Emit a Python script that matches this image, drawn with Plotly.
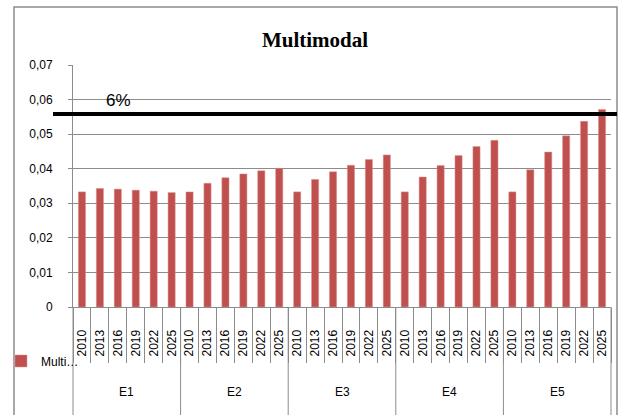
import plotly.graph_objects as go

groups = ["E1", "E2", "E3", "E4", "E5"]
years = ["2010", "2013", "2016", "2019", "2022", "2025"]
values = [
    [0.0333, 0.0343, 0.0341, 0.0338, 0.0335, 0.0331],  # E1
    [0.0333, 0.0358, 0.0374, 0.0385, 0.0394, 0.0401],  # E2
    [0.0333, 0.0369, 0.0391, 0.0410, 0.0427, 0.0440],  # E3
    [0.0333, 0.0376, 0.0409, 0.0438, 0.0464, 0.0482],  # E4
    [0.0333, 0.0397, 0.0448, 0.0495, 0.0537, 0.0571],  # E5
]
threshold = 0.0558
threshold_label = "6%"
series_name = "Multi…"
title = "Multimodal"
y_ticks = [0, 0.01, 0.02, 0.03, 0.04, 0.05, 0.06, 0.07]
y_ticktext = ["0", "0,01", "0,02", "0,03", "0,04", "0,05", "0,06", "0,07"]

cats = [g + " " + y for g in groups for y in years]
cat_labels = [y for _ in groups for y in years]
y_vals = [v for row in values for v in row]

W, H = 619, 415
L, R, T, B = 73, 8, 65, 108
pw, ph = W - L - R, H - T - B
GRAY = "#8c8c8c"
FONT = "Liberation Sans, Arial, sans-serif"

def px_x(p):
    return (p - L) / pw

def px_y(p):
    return (H - B - p) / ph

fig = go.Figure()
fig.add_trace(go.Bar(
    x=cats, y=y_vals, name=series_name,
    marker=dict(color="#C0504D", line=dict(color="#D99795", width=0.5)),
    width=0.4, showlegend=True,
))

fig.update_layout(
    width=W, height=H,
    margin=dict(l=L, r=R, t=T, b=B, autoexpand=False),
    paper_bgcolor="white", plot_bgcolor="white",
    font=dict(family=FONT, size=12, color="black"),
    title=dict(text="<b>" + title + "</b>", x=px_x(315), xref="paper", xanchor="center",
               y=1 - 40 / H, yanchor="middle",
               font=dict(family="Liberation Serif, Times New Roman, serif", size=21, color="black")),
    showlegend=True,
    legend=dict(x=1 / W, y=1 - 361 / H, xref="container", yref="container",
                xanchor="left", yanchor="middle", font=dict(size=12),
                bgcolor="rgba(0,0,0,0)", borderwidth=0),
)

fig.update_xaxes(
    type="category", tickvals=cats, ticktext=cat_labels, showgrid=False,
    showline=True, linecolor=GRAY, linewidth=1,
    ticks="outside", ticklen=55, tickcolor=GRAY, tickwidth=1, tickson="boundaries",
    tickangle=-90, ticklabelstandoff=17, tickfont=dict(size=12),
)
fig.update_yaxes(
    range=[0, 0.07], tickvals=y_ticks, ticktext=y_ticktext, showgrid=True, gridcolor=GRAY,
    gridwidth=1, showline=True, linecolor=GRAY, linewidth=1, ticks="outside", ticklen=4,
    tickcolor=GRAY, zeroline=False, tickfont=dict(size=12), ticklabelstandoff=13,
)

# outer chart border
fig.add_shape(type="rect", xref="paper", yref="paper",
              x0=px_x(14), x1=px_x(617), y0=px_y(440), y1=px_y(7),
              line=dict(color=GRAY, width=1.5), fillcolor="rgba(0,0,0,0)", layer="below")
# group dividers and group labels
ng = len(groups)
for k in range(ng + 1):
    fig.add_shape(type="line", xref="paper", yref="paper", x0=k / ng, x1=k / ng,
                  y0=0, y1=px_y(440), line=dict(color=GRAY, width=1))
for k, g in enumerate(groups):
    fig.add_annotation(text=g, xref="paper", yref="paper", x=(k + 0.5) / ng, y=px_y(392),
                       showarrow=False, xanchor="center", yanchor="middle", font=dict(size=12))
# threshold line
fig.add_shape(type="line", xref="paper", yref="y", x0=px_x(53), x1=px_x(617),
              y0=threshold, y1=threshold, line=dict(color="black", width=4))
fig.add_annotation(text=threshold_label, xref="paper", yref="paper", x=px_x(118), y=px_y(100),
                   showarrow=False, xanchor="center", yanchor="middle",
                   font=dict(size=17, color="black", family=FONT))

fig.write_html("out.html", config={"displayModeBar": False},
               post_script="document.body.style.margin='0';document.body.style.padding='0';")
